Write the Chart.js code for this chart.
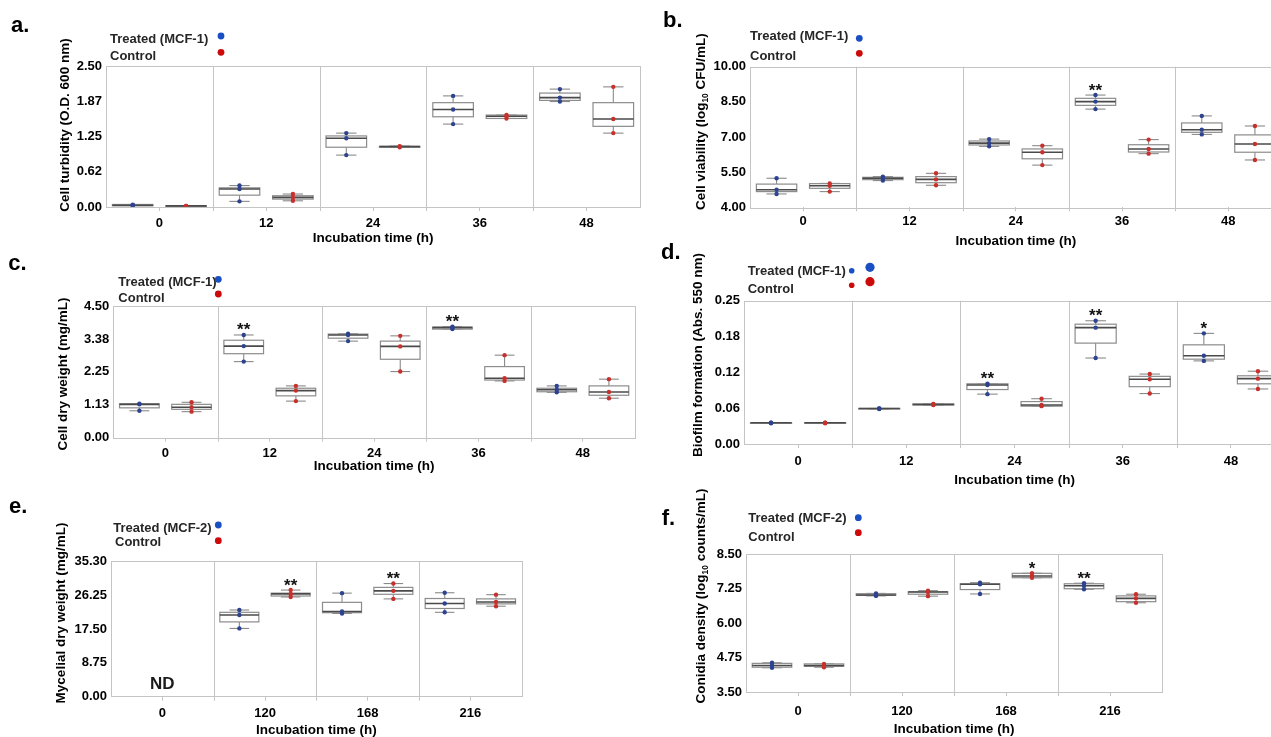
<!DOCTYPE html>
<html><head><meta charset="utf-8">
<script src="https://cdn.jsdelivr.net/npm/chart.js@4.4.1/dist/chart.umd.min.js"></script>
<style>
html,body{margin:0;padding:0;background:#fff;width:1271px;height:737px;overflow:hidden;position:relative}
canvas{position:absolute;left:0;top:0}
</style></head><body>
<script>
// ---------- DATA ----------
const catsMCF1 = ['0','12','24','36','48'];
const catsMCF2 = ['0','120','168','216'];
const namesMCF1 = ['Treated (MCF-1)','Control'];
const namesMCF2 = ['Treated (MCF-2)','Control'];

// a. Cell turbidity
const aTicks = ['0.00','0.62','1.25','1.87','2.50'];
const aTreatedPts = [[0.03,0.03,0.04],[0.10,0.32,0.38],[0.92,1.22,1.31],[1.47,1.73,1.97],[1.87,1.94,2.09]];
const aTreatedBox = [[0.02,0.045],[0.21,0.34],[1.06,1.26],[1.60,1.85],[1.89,2.02]];
const aControlPts = [[0.01,0.02,0.02],[0.11,0.17,0.23],[1.06,1.07,1.08],[1.57,1.61,1.63],[1.31,1.56,2.13]];
const aControlBox = [[0.01,0.025],[0.14,0.20],[1.06,1.075],[1.57,1.63],[1.43,1.85]];
const aTreatedStars = ['','','','',''];
const aControlStars = ['','','','',''];

// b. Cell viability
const bTicks = ['4.00','5.50','7.00','8.50','10.00'];
const bTreatedPts = [[4.57,4.75,5.24],[5.14,5.24,5.31],[6.60,6.74,6.91],[8.19,8.51,8.79],[7.11,7.31,7.90]];
const bTreatedBox = [[4.67,4.99],[5.18,5.28],[6.66,6.83],[8.35,8.65],[7.20,7.60]];
const bControlPts = [[4.67,4.92,5.02],[4.94,5.19,5.45],[5.80,6.35,6.63],[6.29,6.49,6.89],[6.02,6.70,7.47]];
const bControlBox = [[4.81,5.01],[5.05,5.31],[6.07,6.49],[6.36,6.67],[6.35,7.09]];
const bTreatedStars = ['','','','**',''];
const bControlStars = ['','','','',''];

// c. Cell dry weight
const cTicks = ['0.00','1.13','2.25','3.38','4.50'];
const cTreatedPts = [[0.92,1.14,1.16],[2.60,3.13,3.51],[3.30,3.51,3.55],[3.71,3.76,3.79],[1.55,1.64,1.77]];
const cTreatedBox = [[1.02,1.16],[2.87,3.33],[3.40,3.54],[3.71,3.78],[1.57,1.69]];
const cControlPts = [[0.89,1.04,1.21],[1.25,1.61,1.77],[2.26,3.12,3.48],[1.94,2.03,2.82],[1.35,1.56,2.00]];
const cControlBox = [[0.97,1.14],[1.43,1.69],[2.68,3.30],[1.97,2.43],[1.45,1.77]];
const cTreatedStars = ['','**','','**',''];
const cControlStars = ['','','','',''];

// d. Biofilm formation
const dTicks = ['0.00','0.06','0.12','0.18','0.25'];
const dTreatedPts = [[0.036,0.037,0.037],[0.061,0.062,0.062],[0.087,0.103,0.105],[0.150,0.203,0.215],[0.145,0.154,0.193]];
const dTreatedBox = [[0.036,0.037],[0.061,0.062],[0.095,0.105],[0.176,0.209],[0.148,0.173]];
const dControlPts = [[0.036,0.037,0.037],[0.068,0.069,0.070],[0.066,0.068,0.079],[0.088,0.113,0.122],[0.096,0.114,0.127]];
const dControlBox = [[0.036,0.037],[0.068,0.070],[0.066,0.074],[0.100,0.118],[0.105,0.119]];
const dTreatedStars = ['','','**','**','*'];
const dControlStars = ['','','','',''];

// e. Mycelial dry weight
const eTicks = ['0.00','8.75','17.50','26.25','35.30'];
const eTreatedPts = [null,[17.8,21.3,22.6],[21.7,22.2,27.0],[22.0,24.3,27.1]];
const eTreatedBox = [null,[19.5,22.0],[21.9,24.6],[23.0,25.6]];
const eControlPts = [null,[26.0,26.8,27.8],[25.5,27.6,29.5],[23.6,24.7,26.6]];
const eControlBox = [null,[26.25,27.0],[26.7,28.5],[24.2,25.5]];
const eTreatedStars = ['','','',''];
const eControlStars = ['','**','**',''];
const eNotes = ['ND','','',''];

// f. Conidia density
const fTicks = ['3.50','4.75','6.00','7.25','8.50'];
const fTreatedPts = [[4.38,4.46,4.56],[6.99,7.02,7.08],[7.06,7.41,7.47],[7.23,7.36,7.45]];
const fTreatedBox = [[4.40,4.54],[7.01,7.07],[7.22,7.43],[7.25,7.43]];
const fControlPts = [[4.40,4.46,4.52],[6.98,7.13,7.18],[7.65,7.71,7.81],[6.74,6.90,7.05]];
const fControlBox = [[4.43,4.52],[7.05,7.14],[7.65,7.81],[6.78,6.99]];
const fTreatedStars = ['','','','**'];
const fControlStars = ['','','*',''];

// ---------- LAYOUT / STYLE ----------
const FONT = '"Liberation Sans", Arial, Helvetica, sans-serif';
const W = 1300, H = 737, YW = 100, XH = 30;
const GRID = '#c4c4c4';
const T_PT = '#2d4390', C_PT = '#c8302c';
const T_LEG = '#1a4fc4', C_LEG = '#cc0a0a';

const panels = [
 { label:'a.', labelPos:[11,31.7], x0:106, x1:640, y0:66, y1:207, cats:catsMCF1, names:namesMCF1,
   yMin:0, yMax:2.5, yTicks:aTicks, tPts:aTreatedPts, tBox:aTreatedBox, cPts:aControlPts, cBox:aControlBox,
   tStars:aTreatedStars, cStars:aControlStars, notes:null,
   yTitle:[['Cell turbidity (O.D. 600 nm)',0]], yTitlePos:[65,125], xTitleDy:31, tickPad:4.5,
   legend:{tx:[110,110], ty:[39.3,56], dx:221, dy:[36,52.3]} },
 { label:'b.', labelPos:[663,26.7], x0:750, x1:1281.5, y0:66.7, y1:207.3, cats:catsMCF1, names:namesMCF1,
   yMin:4, yMax:10, yTicks:bTicks, tPts:bTreatedPts, tBox:bTreatedBox, cPts:bControlPts, cBox:bControlBox,
   tStars:bTreatedStars, cStars:bControlStars, notes:null,
   yTitle:[['Cell viability (log',0],['10',1],[' CFU/mL)',0]], yTitlePos:[701.7,121.6], xTitleDy:34, tickPad:2,
   legend:{tx:[750,750], ty:[36,56.7], dx:859.3, dy:[38.3,53.3]} },
 { label:'c.', labelPos:[8.3,270], x0:113.3, x1:635, y0:306, y1:437.7, cats:catsMCF1, names:namesMCF1,
   yMin:0, yMax:4.5, yTicks:cTicks, tPts:cTreatedPts, tBox:cTreatedBox, cPts:cControlPts, cBox:cControlBox,
   tStars:cTreatedStars, cStars:cControlStars, notes:null,
   yTitle:[['Cell dry weight (mg/mL)',0]], yTitlePos:[63.3,374], xTitleDy:28.5, tickPad:3.5,
   legend:{tx:[118.3,118.3], ty:[282.3,298.3], dx:218.3, dy:[279.3,294]} },
 { label:'d.', labelPos:[661,259], x0:744, x1:1285, y0:300.7, y1:444, cats:catsMCF1, names:namesMCF1,
   yMin:0, yMax:0.25, yTicks:dTicks, tPts:dTreatedPts, tBox:dTreatedBox, cPts:dControlPts, cBox:dControlBox,
   tStars:dTreatedStars, cStars:dControlStars, notes:null,
   yTitle:[['Biofilm formation (Abs. 550 nm)',0]], yTitlePos:[698,355], xTitleDy:36.7, tickPad:6,
   legend:{tx:[747.7,747.7], ty:[271.7,289], dx:851.7, dy:[270.7,285.3], r:2.8, big:{dx:870, dy:[267.3,281.7], r:4.6}} },
 { label:'e.', labelPos:[9,513], x0:111, x1:521.7, y0:561.3, y1:696.7, cats:catsMCF2, names:namesMCF2,
   yMin:0, yMax:35.3, yTicks:eTicks, tPts:eTreatedPts, tBox:eTreatedBox, cPts:eControlPts, cBox:eControlBox,
   tStars:eTreatedStars, cStars:eControlStars, notes:eNotes,
   yTitle:[['Mycelial dry weight (mg/mL)',0]], yTitlePos:[61.7,613], xTitleDy:34, tickPad:4.5,
   legend:{tx:[113.3,115], ty:[528.3,542.7], dx:218.3, dy:[525,540.7]} },
 { label:'f.', labelPos:[661.7,525], x0:746, x1:1162, y0:554.3, y1:692, cats:catsMCF2, names:namesMCF2,
   yMin:3.5, yMax:8.5, yTicks:fTicks, tPts:fTreatedPts, tBox:fTreatedBox, cPts:fControlPts, cBox:fControlBox,
   tStars:fTreatedStars, cStars:fControlStars, notes:null,
   yTitle:[['Conidia density (log',0],['10',1],[' counts/mL)',0]], yTitlePos:[701.7,596], xTitleDy:37, tickPad:7.5,
   legend:{tx:[748.3,748.3], ty:[518.3,537.7], dx:858.3, dy:[517.7,532.7]} }
];

const OFF = 0.25, BOX_HALF = 0.19, CAP_HALF = 0.095;

function seg(ctx, x1, y1, x2, y2){ ctx.beginPath(); ctx.moveTo(x1,y1); ctx.lineTo(x2,y2); ctx.stroke(); }

function drawRich(ctx, segs, x, y, size, rotate, color){
  ctx.save(); ctx.translate(x,y); if (rotate) ctx.rotate(-Math.PI/2);
  const fm = 'bold '+size+'px '+FONT, fs = 'bold '+(size*0.62).toFixed(1)+'px '+FONT;
  let total = 0; const ws = [];
  segs.forEach(s => { ctx.font = s[1] ? fs : fm; const w = ctx.measureText(s[0]).width; ws.push(w); total += w; });
  let cx = -total/2; ctx.textBaseline = 'middle'; ctx.textAlign = 'left'; ctx.fillStyle = color || '#000';
  segs.forEach((s,i) => { ctx.font = s[1] ? fs : fm; ctx.fillText(s[0], cx, s[1] ? size*0.32 : 0); cx += ws[i]; });
  ctx.restore();
}

function makePlugin(p){
  return {
    id: 'bx',
    beforeDatasetsDraw(chart){
      const ctx = chart.ctx, xs = chart.scales.x, ys = chart.scales.y, a = chart.chartArea;
      ctx.save();
      ctx.strokeStyle = GRID; ctx.lineWidth = 1;
      for (let i = 0; i < p.cats.length - 1; i++){
        const x = Math.round(xs.getPixelForValue(i + 0.5)) + 0.5;
        seg(ctx, x, a.top, x, a.bottom + 4);
      }
      ctx.strokeRect(Math.round(a.left)+0.5, Math.round(a.top)+0.5, Math.round(a.right-a.left), Math.round(a.bottom-a.top));
      const hw = xs.getPixelForValue(BOX_HALF) - xs.getPixelForValue(0);
      const chw = xs.getPixelForValue(CAP_HALF) - xs.getPixelForValue(0);
      [[p.tPts, p.tBox, -OFF],[p.cPts, p.cBox, OFF]].forEach(([pts, box, off]) => {
        pts.forEach((vals, i) => {
          if (!vals) return;
          const s = vals.slice().sort((u,v)=>u-v);
          const cx = xs.getPixelForValue(i + off);
          const yLo = ys.getPixelForValue(s[0]), yHi = ys.getPixelForValue(s[s.length-1]);
          const yMed = ys.getPixelForValue(s[Math.floor(s.length/2)]);
          const yQ1 = ys.getPixelForValue(box[i][0]), yQ3 = ys.getPixelForValue(box[i][1]);
          ctx.strokeStyle = '#8a8a8a'; ctx.lineWidth = 1.1;
          seg(ctx, cx, yQ3, cx, yHi); seg(ctx, cx - chw, yHi, cx + chw, yHi);
          seg(ctx, cx, yQ1, cx, yLo); seg(ctx, cx - chw, yLo, cx + chw, yLo);
          ctx.fillStyle = '#fff';
          ctx.fillRect(cx - hw, yQ3, 2*hw, yQ1 - yQ3);
          ctx.strokeStyle = '#8c8c8c'; ctx.lineWidth = 1.2;
          ctx.strokeRect(cx - hw, yQ3, 2*hw, yQ1 - yQ3);
          ctx.strokeStyle = '#4a4a4a'; ctx.lineWidth = 1.6;
          seg(ctx, cx - hw, yMed, cx + hw, yMed);
        });
      });
      ctx.restore();
    },
    afterDraw(chart){
      const ctx = chart.ctx, xs = chart.scales.x, ys = chart.scales.y, a = chart.chartArea;
      ctx.save();
      // panel label
      ctx.font = 'bold 22px ' + FONT; ctx.fillStyle = '#000'; ctx.textAlign = 'left'; ctx.textBaseline = 'alphabetic';
      ctx.fillText(p.label, p.labelPos[0], p.labelPos[1]);
      // legend
      const L = p.legend;
      ctx.font = 'bold 13px ' + FONT; ctx.fillStyle = '#262626'; ctx.textBaseline = 'middle';
      p.names.forEach((n, k) => ctx.fillText(n, L.tx[k], L.ty[k]));
      [T_LEG, C_LEG].forEach((col, k) => {
        ctx.fillStyle = col; ctx.beginPath(); ctx.arc(L.dx, L.dy[k], L.r || 3.4, 0, Math.PI*2); ctx.fill();
        if (L.big){ ctx.beginPath(); ctx.arc(L.big.dx, L.big.dy[k], L.big.r, 0, Math.PI*2); ctx.fill(); }
      });
      // axis titles
      drawRich(ctx, p.yTitle, p.yTitlePos[0], p.yTitlePos[1], 13.5, true, '#000');
      drawRich(ctx, [['Incubation time (h)',0]], (a.left + a.right)/2, a.bottom + p.xTitleDy, 13.5, false, '#000');
      // significance stars
      ctx.font = 'bold 17px ' + FONT; ctx.fillStyle = '#111'; ctx.textAlign = 'center'; ctx.textBaseline = 'alphabetic';
      [[p.tPts, p.tStars, -OFF],[p.cPts, p.cStars, OFF]].forEach(([pts, st, off]) => {
        st.forEach((s, i) => {
          if (!s || !pts[i]) return;
          const top = ys.getPixelForValue(Math.max(...pts[i]));
          ctx.fillText(s, xs.getPixelForValue(i + off), top + 0.5);
        });
      });
      // notes (ND)
      if (p.notes){
        ctx.font = 'bold 17px ' + FONT; ctx.fillStyle = '#1a1a1a'; ctx.textBaseline = 'middle';
        p.notes.forEach((s, i) => { if (s) ctx.fillText(s, xs.getPixelForValue(i), a.bottom - 12); });
      }
      ctx.restore();
    }
  };
}

panels.forEach(p => {
  const cv = document.createElement('canvas');
  cv.width = W; cv.height = H; cv.style.width = W + 'px'; cv.style.height = H + 'px';
  document.body.appendChild(cv);
  const n = p.cats.length;
  const mk = (pts, off) => pts.flatMap((vals, i) => vals ? vals.map(v => ({x: i + off, y: v})) : []);
  const tickFont = {family: FONT, size: 13, weight: 'bold'};
  new Chart(cv, {
    type: 'scatter',
    data: { datasets: [
      { label: p.names[0], data: mk(p.tPts, -OFF), pointRadius: 2.2, pointBackgroundColor: T_PT, pointBorderWidth: 0 },
      { label: p.names[1], data: mk(p.cPts, OFF), pointRadius: 2.2, pointBackgroundColor: C_PT, pointBorderWidth: 0 }
    ]},
    options: {
      responsive: false, animation: false, events: [],
      layout: { padding: { left: p.x0 - YW, top: p.y0, right: W - p.x1, bottom: H - p.y1 - XH } },
      plugins: { legend: { display: false }, tooltip: { enabled: false } },
      scales: {
        x: { type: 'linear', bounds: 'data', min: -0.5, max: n - 0.5,
             afterFit: s => { s.height = XH; },
             afterBuildTicks: s => { s.ticks = p.cats.map((c, i) => ({value: i})); },
             ticks: { callback: v => p.cats[v], font: tickFont, color: '#000', padding: p.tickPad, maxRotation: 0, autoSkip: false },
             grid: { drawOnChartArea: false, tickLength: 4, color: GRID },
             border: { display: false } },
        y: { type: 'linear', bounds: 'data', min: p.yMin, max: p.yMax,
             afterFit: s => { s.width = YW; },
             afterBuildTicks: s => { s.ticks = p.yTicks.map((t, i) => ({value: p.yMin + i * (p.yMax - p.yMin) / (p.yTicks.length - 1)})); },
             ticks: { callback: (v, i) => p.yTicks[i], font: tickFont, color: '#000', padding: 4, autoSkip: false },
             grid: { display: false, drawTicks: false },
             border: { display: false } }
      }
    },
    plugins: [makePlugin(p)]
  });
});
</script>
</body></html>
